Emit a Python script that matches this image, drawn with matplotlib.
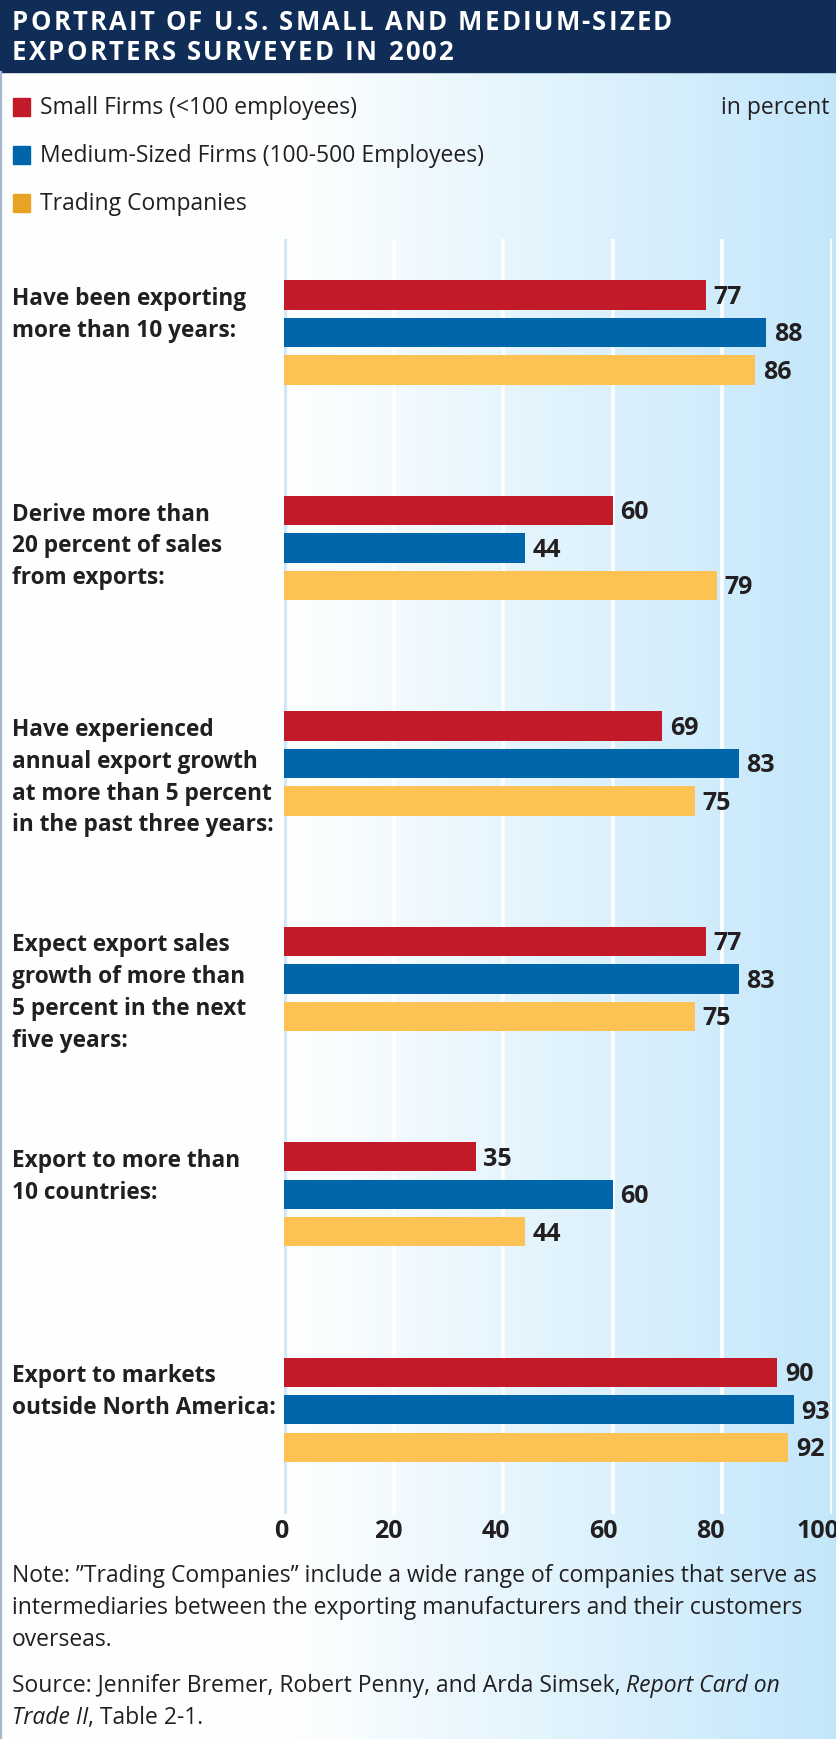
import numpy as np
import matplotlib
matplotlib.use("Agg")
import matplotlib.pyplot as plt
from matplotlib import transforms
from matplotlib.patches import Rectangle

plt.rcParams['font.family'] = ['Open Sans', 'DejaVu Sans']

# data
categories = [
    "Have been exporting\nmore than 10 years:",
    "Derive more than\n20 percent of sales\nfrom exports:",
    "Have experienced\nannual export growth\nat more than 5 percent\nin the past three years:",
    "Expect export sales\ngrowth of more than\n5 percent in the next\nfive years:",
    "Export to more than\n10 countries:",
    "Export to markets\noutside North America:",
]
small = [77, 60, 69, 77, 35, 90]
medium = [88, 44, 83, 83, 60, 93]
trading = [86, 79, 75, 75, 44, 92]
series_names = ["Small Firms (<100 employees)",
                "Medium-Sized Firms (100-500 Employees)",
                "Trading Companies"]
xticks = [0, 20, 40, 60, 80, 100]
title_lines = ["PORTRAIT OF U.S. SMALL AND MEDIUM-SIZED",
               "EXPORTERS SURVEYED IN 2002"]

RED = '#C21A29'
BLUE = '#0066AC'
YELLOW = '#FCC253'
YELLOW_KEY = '#E6A324'
NAVY = '#0F2D57'
INK = '#231F20'

W, H = 836, 1740
fig = plt.figure(figsize=(W / 100, H / 100), dpi=100)
renderer = fig.canvas.get_renderer()

# background in pixel coordinates (y down)
bg = fig.add_axes([0, 0, 1, 1])
bg.set_xlim(0, W)
bg.set_ylim(H, 0)
bg.axis('off')
cols = np.arange(W)
t = np.clip((cols - 290) / (W - 290), 0, 1)
left_c = np.array([0.995, 1.0, 1.0])
right_c = np.array([0.765, 0.905, 0.982])
grad = left_c[None, :] * (1 - t[:, None]) + right_c[None, :] * t[:, None]
bg.imshow(grad[None, :, :], extent=[0, W, H, 0], aspect='auto', zorder=0)
bg.set_xlim(0, W)
bg.set_ylim(H, 0)


def text_width(s, **kw):
    tmp = bg.text(0, 0, s, **kw)
    bb = tmp.get_window_extent(renderer=renderer)
    tmp.remove()
    return bb.width


def spaced_text(x, yc, s, spacing, **kw):
    # letter-spaced caps for the title
    bar_w = text_width("|", **kw)
    for k, ch in enumerate(s):
        if ch == " ":
            continue
        pre = text_width(s[:k] + "|", **kw) - bar_w if k else 0
        bg.text(x + pre + k * spacing, yc, ch, **kw)


# title band
bg.add_patch(Rectangle((0, 0), W, 73, color=NAVY, zorder=1))
for k, line in enumerate(title_lines):
    spaced_text(12, 22 + k * 31, line, 2.2, color='white', fontsize=18.5,
                fontweight='bold', va='center', zorder=2)
bg.plot([0.8, 0.8], [73, H], color='#A5B8CD', lw=1.6, zorder=2)

# legend
key_colors = [RED, BLUE, YELLOW_KEY]
for k, (name, c) in enumerate(zip(series_names, key_colors)):
    yc = 108 + k * 48
    bg.add_patch(Rectangle((13, yc - 9), 17, 18, color=c, zorder=2))
    bg.text(40, yc, name, fontsize=16.5, color=INK, va='center', zorder=2)
bg.text(829, 108, "in percent", fontsize=16.5, color=INK, va='center',
        ha='right', zorder=2)

# main chart
ax = fig.add_axes([284 / W, 1 - 1515 / H, (832 - 284) / W, (1515 - 240) / H])
ax.patch.set_alpha(0)
y = np.arange(len(categories))
off = 0.174
bh = 0.135
ax.barh(y - off, small, height=bh, color=RED, zorder=3)
ax.barh(y, medium, height=bh, color=BLUE, zorder=3)
ax.barh(y + off, trading, height=bh, color=YELLOW, zorder=3)
ax.set_xlim(0, 100)
ax.set_ylim(5.483, -0.434)

for vals, dy in [(small, -off), (medium, 0), (trading, off)]:
    for i, v in enumerate(vals):
        ax.annotate(str(v), (v, i + dy), xytext=(5.5, -1), textcoords='offset points',
                    va='center', ha='left', fontsize=18, fontweight='bold',
                    color=INK, annotation_clip=False)

ax.set_xticks(xticks)
ax.set_yticks([])
ax.grid(axis='x', color='white', lw=2.6, zorder=1)
ax.set_axisbelow(True)
ax.axvline(0, color='#D2E6F5', lw=3.8, zorder=2)
ax.tick_params(axis='x', length=0, pad=3, labelsize=18, labelcolor=INK)
# the printed tick numbers sit a little left of their gridlines
for lbl, v in zip(ax.get_xticklabels(), xticks):
    lbl.set_fontweight('bold')
    shift = transforms.ScaledTranslation(-(3 + 0.11 * v) / 100, 0, fig.dpi_scale_trans)
    lbl.set_transform(lbl.get_transform() + shift)
for s in ax.spines.values():
    s.set_visible(False)

# category labels, first line level with the red bar
blend = transforms.blended_transform_factory(bg.transData, ax.transData)
line_step = 31.8 / 215.5
for i, cat in enumerate(categories):
    for j, line in enumerate(cat.split("\n")):
        ax.text(12, i - off + j * line_step, line, transform=blend,
                fontsize=16.3, fontweight='bold', color=INK,
                va='center_baseline', ha='left', clip_on=False)

# notes
note_lines = [
    "Note: \u201dTrading Companies\u201d include a wide range of companies that serve as",
    "intermediaries between the exporting manufacturers and their customers",
    "overseas.",
]
for j, line in enumerate(note_lines):
    bg.text(12, 1573 + j * 32, line, fontsize=16.5, color=INK,
            va='center_baseline', zorder=2)


def runs(x, yc, parts):
    # draws text pieces one after another on a line
    for k, (text, style) in enumerate(parts):
        tx = bg.text(x, yc, text, fontsize=16.5, color=INK, style=style,
                     va='center_baseline', zorder=2)
        bb = tx.get_window_extent(renderer=renderer)
        x = bg.transData.inverted().transform((bb.x1, bb.y0))[0]
        if k < len(parts) - 1 and not parts[k + 1][0].startswith(","):
            x += 6
    return x


runs(12, 1683, [("Source: Jennifer Bremer, Robert Penny, and Arda Simsek,", 'normal'),
                ("Report Card on", 'italic')])
runs(12, 1715, [("Trade II", 'italic'), (", Table 2-1.", 'normal')])

fig.savefig("out.png", dpi=100)
